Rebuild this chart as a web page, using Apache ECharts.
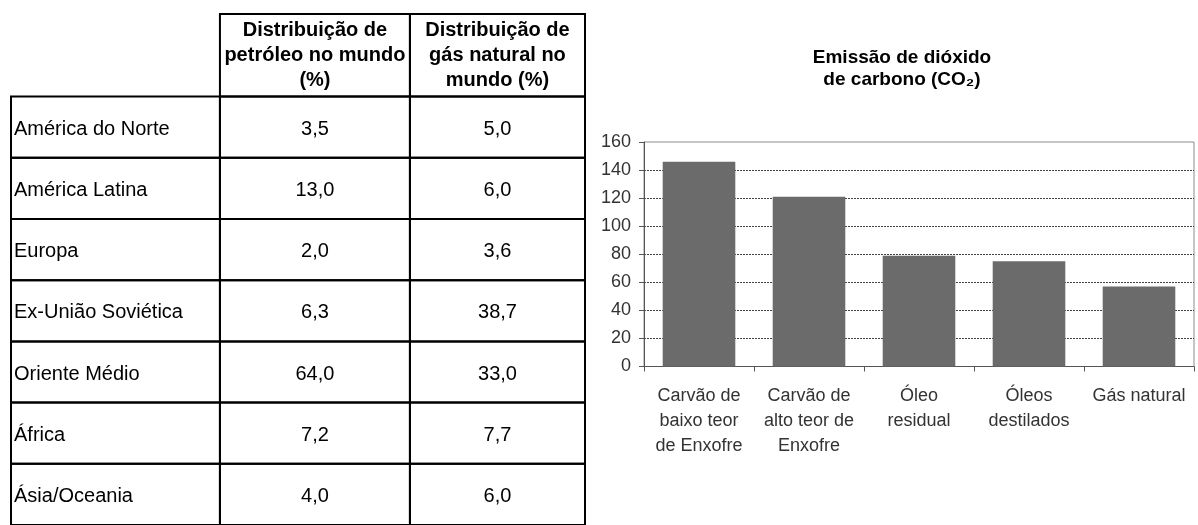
<!DOCTYPE html>
<html>
<head>
<meta charset="utf-8">
<title>Petróleo, gás natural e emissão de CO2</title>
<script src="https://cdn.jsdelivr.net/npm/echarts@6/dist/echarts.min.js"></script>
<style>
  html, body { margin: 0; padding: 0; background: #fff; }
  #chart { width: 1198px; height: 525px; }
</style>
</head>
<body>
<div id="chart"></div>
<script>
// tabela: distribuição no mundo (%)
const regions = ['América do Norte', 'América Latina', 'Europa', 'Ex-União Soviética', 'Oriente Médio', 'África', 'Ásia/Oceania'];
const oilShare = [3.5, 13.0, 2.0, 6.3, 64.0, 7.2, 4.0];
const gasShare = [5.0, 6.0, 3.6, 38.7, 33.0, 7.7, 6.0];
const tableHeaders = ['', 'Distribuição de\npetróleo no mundo\n(%)', 'Distribuição de\ngás natural no\nmundo (%)'];

// gráfico: emissão de CO2
const fuels = ['Carvão de\nbaixo teor\nde Enxofre', 'Carvão de\nalto teor de\nEnxofre', 'Óleo\nresidual', 'Óleos\ndestilados', 'Gás natural'];
const emissions = [146, 121, 79, 75, 57];
const emissionTicks = [0, 20, 40, 60, 80, 100, 120, 140, 160];

const FONT = "'Liberation Sans', Arial, sans-serif";
const colEdges = [0, 1.092, 2.085, 3];   // largura das colunas (unidades do eixo)
const HEADER_TOP = -1.35;                 // cabeçalho mais alto que as linhas

const fmt = v => v.toFixed(1).replace('.', ',');

// monta as células da tabela
const cells = [];
tableHeaders.forEach((h, c) => {
  if (h) cells.push({ col: c, row: -1, text: h, bold: true });
});
regions.forEach((r, i) => {
  cells.push({ col: 0, row: i, text: r });
  cells.push({ col: 1, row: i, text: fmt(oilShare[i]) });
  cells.push({ col: 2, row: i, text: fmt(gasShare[i]) });
});

function renderCell(params, api) {
  const cell = cells[params.dataIndex];
  const top = cell.row < 0 ? HEADER_TOP : cell.row;
  const bottom = cell.row < 0 ? 0 : cell.row + 1;
  const p0 = api.coord([colEdges[cell.col], top]);
  const p1 = api.coord([colEdges[cell.col + 1], bottom]);
  const x = Math.min(p0[0], p1[0]);
  const y = Math.min(p0[1], p1[1]);
  const w = Math.abs(p1[0] - p0[0]);
  const h = Math.abs(p1[1] - p0[1]);
  return {
    type: 'group',
    children: [
      {
        type: 'rect',
        shape: { x: x, y: y, width: w, height: h },
        style: { fill: null, stroke: '#000', lineWidth: 2 }
      },
      {
        type: 'text',
        style: {
          text: cell.text,
          x: cell.col === 0 ? x + 3 : x + w / 2,
          y: y + h / 2 + (cell.row < 0 ? 0 : 2),
          align: cell.col === 0 ? 'left' : 'center',
          verticalAlign: 'middle',
          fontSize: 20,
          lineHeight: 25,
          fontWeight: cell.bold ? 'bold' : 'normal',
          fontFamily: FONT,
          fill: '#000'
        }
      }
    ]
  };
}

// linha de 160 fica só com a borda cinza do grid
const splitColors = emissionTicks.map((t, i) => i === emissionTicks.length - 1 ? 'rgba(0,0,0,0)' : '#444');

const chart = echarts.init(document.getElementById('chart'));

const option = {
  animation: false,
  backgroundColor: '#fff',
  title: {
    text: 'Emissão de dióxido\nde carbono (CO₂)',
    left: 897,
    top: 42,
    textAlign: 'center',
    textStyle: { fontSize: 19, fontWeight: 'bold', lineHeight: 22, color: '#000', fontFamily: FONT }
  },
  grid: [
    { left: 644, top: 142, width: 550, height: 224.5, show: true, borderColor: '#8c8c8c', borderWidth: 1 },
    { left: 11, top: 14, width: 574, height: 513 }
  ],
  xAxis: [
    {
      type: 'category',
      data: fuels,
      gridIndex: 0,
      axisLine: { lineStyle: { color: '#555' } },
      axisTick: { show: true, length: 5, alignWithLabel: false, lineStyle: { color: '#555' } },
      axisLabel: { interval: 0, fontSize: 18, lineHeight: 25, color: '#333', margin: 17, fontFamily: FONT }
    },
    { type: 'value', gridIndex: 1, min: 0, max: 3, show: false }
  ],
  yAxis: [
    {
      type: 'value',
      gridIndex: 0,
      min: emissionTicks[0],
      max: emissionTicks[emissionTicks.length - 1],
      interval: emissionTicks[1] - emissionTicks[0],
      axisLine: { show: true, lineStyle: { color: '#555' } },
      axisTick: { show: true, length: 5, lineStyle: { color: '#555' } },
      axisLabel: { fontSize: 18, color: '#333', margin: 13, fontFamily: FONT },
      splitLine: { show: true, lineStyle: { type: [2, 1], color: splitColors, width: 1 } }
    },
    { type: 'value', gridIndex: 1, min: HEADER_TOP, max: regions.length, inverse: true, show: false }
  ],
  series: [
    {
      type: 'bar',
      xAxisIndex: 0,
      yAxisIndex: 0,
      data: emissions,
      barCategoryGap: '34%',
      itemStyle: { color: '#6b6b6b' }
    },
    {
      type: 'custom',
      xAxisIndex: 1,
      yAxisIndex: 1,
      renderItem: renderCell,
      data: cells.map(c => [c.col, c.row]),
      clip: false
    }
  ]
};

chart.setOption(option);
</script>
</body>
</html>
